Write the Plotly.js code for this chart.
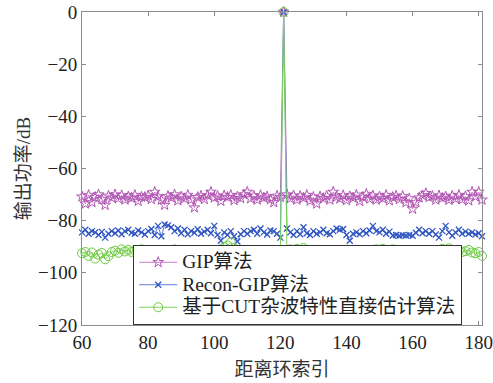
<!DOCTYPE html>
<html>
<head>
<meta charset="utf-8">
<script src="https://cdn.plot.ly/plotly-3.0.1.min.js"></script>
<style>html,body{margin:0;padding:0;background:#fff;}#chart{width:493px;height:383px;}</style>
</head>
<body>
<div id="chart"></div>
<script>
// range-bin indices 60..181
const startIndex = 60;
const endIndex = 181;

const seriesNames = ["GIP算法", "Recon-GIP算法", "基于CUT杂波特性直接估计算法"];

const gip = [
  -70.8, -73.5, -70.2, -73.0, -71.0, -70.0, -71.8, -74.0, -70.5, -71.2,
  -70.0, -71.5, -70.3, -72.0, -70.8, -71.3, -70.2, -72.5, -70.9, -71.0,
  -70.4, -71.8, -69.0, -70.8, -72.0, -74.0, -70.6, -71.2, -70.0, -72.3,
  -70.8, -71.5, -70.2, -72.0, -75.0, -71.0, -70.5, -71.8, -70.3, -69.0,
  -71.2, -70.6, -72.5, -70.4, -71.0, -70.2, -72.2, -70.8, -71.4, -70.0,
  -69.0, -71.5, -70.6, -72.0, -70.3, -71.2, -70.8, -71.9, -73.0, -70.5,
  -71.0, 0, -70.0, -71.5, -70.4, -72.0, -70.6, -71.3, -70.2, -72.4,
  -71.0, -73.5, -70.8, -71.4, -70.5, -72.0, -69.0, -70.9, -71.6, -70.3,
  -72.2, -70.7, -71.3, -70.1, -72.5, -71.0, -69.8, -71.6, -70.4, -72.0,
  -70.8, -71.5, -70.2, -72.3, -71.0, -70.5, -71.8, -70.6, -73.0, -71.5,
  -75.5, -73.0, -71.2, -70.3, -69.5, -71.0, -70.6, -72.0, -70.4, -71.3,
  -70.8, -72.1, -70.5, -71.6, -70.2, -71.9, -70.7, -72.3, -69.0, -70.8,
  -69.0, -72.0
];

const reconGip = [
  -84.5, -83.5, -85.0, -84.0, -84.5, -85.5, -84.3, -86.5, -85.0, -84.0,
  -84.8, -83.8, -85.2, -84.0, -83.5, -84.6, -85.0, -83.8, -84.5, -85.3,
  -84.0, -83.2, -85.5, -82.0, -86.0, -81.5, -81.8, -82.5, -84.0, -83.0,
  -84.8, -83.5, -85.2, -84.0, -84.6, -83.3, -85.0, -84.2, -83.5, -84.8,
  -82.0, -85.5, -87.7, -84.5, -85.5, -84.0, -86.0, -88.0, -85.2, -84.0,
  -85.0, -84.0, -83.5, -85.0, -83.0, -84.5, -85.3, -83.8, -84.0, -85.0,
  -86.5, 0, -83.0, -84.5, -85.5, -84.0, -85.2, -82.5, -84.8, -85.5,
  -84.0, -85.0, -84.5, -83.5, -84.8, -85.2, -84.0, -83.0, -83.5, -83.2,
  -85.5, -87.7, -85.0, -84.5, -85.2, -84.0, -84.8, -83.8, -82.0, -84.0,
  -84.5, -83.5, -85.0, -84.2, -85.7, -85.5, -85.8, -85.6, -85.7, -85.5,
  -85.8, -84.6, -83.5, -84.8, -84.0, -85.0, -84.0, -85.3, -86.5, -84.0,
  -82.0, -84.5, -85.8, -84.5, -83.5, -85.0, -84.2, -85.0, -84.5, -85.3,
  -84.8, -86.0
];

const cutDirect = [
  -92.5, -92.0, -93.5, -92.2, -94.5, -93.0, -92.4, -94.8, -93.6, -92.0,
  -91.5, -92.3, -91.0, -91.8, -91.2, -92.0, -91.4, -91.7, -91.0, -92.0,
  -91.3, -91.6, -92.0, -91.2, -91.8, -91.4, -92.1, -91.5, -91.0, -91.8,
  -91.2, -91.6, -92.0, -91.4, -91.8, -92.2, -91.5, -92.0, -91.7, -92.2,
  -91.8, -92.3, -91.0, -90.2, -89.5, -88.3, -90.5, -92.0, -92.5, -92.2,
  -92.0, -92.6, -92.3, -92.8, -92.4, -92.0, -92.6, -92.2, -92.0, -92.4,
  -92.3, 0, -93.0, -91.0, -92.0, -90.8, -91.6, -90.5, -91.8, -92.0,
  -91.5, -91.2, -92.0, -91.4, -91.8, -92.2, -91.6, -91.3, -92.0, -92.4,
  -91.8, -92.2, -91.6, -92.0, -91.4, -91.9, -91.5, -92.1, -91.2, -91.0,
  -91.3, -90.8, -91.2, -91.6, -91.0, -91.5, -91.8, -91.4, -92.0, -91.7,
  -92.2, -91.8, -92.3, -91.6, -92.1, -91.9, -92.4, -91.7, -91.2, -90.8,
  -91.4, -90.6, -91.3, -91.8, -91.5, -92.0, -91.7, -91.2, -92.2, -92.5,
  -92.0, -93.5
];

const xTicks = [60, 80, 100, 120, 140, 160, 180];
const yTicks = [0, -20, -40, -60, -80, -100, -120];

const rangeIndex = [];
for (let i = startIndex; i <= endIndex; i++) rangeIndex.push(i);

const FONT = '"Liberation Serif", "Times New Roman", "Noto Sans CJK SC", serif';
const legendLabel = (s) => '<span style="font-size:19.5px">' + s + '</span>';

const traces = [
  {
    x: rangeIndex, y: gip, name: legendLabel(seriesNames[0]), type: 'scatter', mode: 'lines+markers',
    line: {color: '#C77CC9', width: 1},
    marker: {symbol: 'star-open', size: 8, color: '#B256B4', line: {width: 1, color: '#B256B4'}},
    cliponaxis: false
  },
  {
    x: rangeIndex, y: reconGip, name: legendLabel(seriesNames[1]), type: 'scatter', mode: 'lines+markers',
    line: {color: '#5B7FD6', width: 1},
    marker: {symbol: 'x-thin-open', size: 6, color: '#2F55C2', line: {width: 1.3, color: '#2F55C2'}},
    cliponaxis: false
  },
  {
    x: rangeIndex, y: cutDirect, name: legendLabel(seriesNames[2]), type: 'scatter', mode: 'lines+markers',
    line: {color: '#7FD35A', width: 1},
    marker: {symbol: 'circle-open', size: 9, color: '#6CCB40', line: {width: 1, color: '#6CCB40'}},
    cliponaxis: false
  }
];

const axisCommon = {
  showline: true, mirror: 'ticks', linecolor: '#8c8c8c', linewidth: 1,
  ticks: 'inside', ticklen: 4, tickcolor: '#8c8c8c', tickwidth: 1,
  showgrid: false, zeroline: false,
  tickfont: {family: FONT, size: 19, color: '#222'}
};

const layout = {
  width: 493, height: 383,
  margin: {l: 82, r: 11, t: 12, b: 58},
  paper_bgcolor: '#fff', plot_bgcolor: '#fff',
  font: {family: FONT, color: '#222'},
  showlegend: true,
  legend: {
    x: 0.128, xanchor: 'left', y: 0, yanchor: 'bottom',
    bgcolor: '#fff', bordercolor: '#333', borderwidth: 1,
    font: {family: FONT, size: 15, color: '#222'},
    tracegroupgap: 0, itemwidth: 38
  },
  xaxis: Object.assign({}, axisCommon, {
    range: [60, 181], tickvals: xTicks,
    title: {text: '距离环索引', font: {family: FONT, size: 19, color: '#333'}, standoff: 10}
  }),
  yaxis: Object.assign({}, axisCommon, {
    range: [-120, 0], tickvals: yTicks,
    title: {text: '输出功率/dB', font: {family: FONT, size: 19, color: '#333'}, standoff: 2}
  })
};

Plotly.newPlot('chart', traces, layout, {staticPlot: true, displayModeBar: false});
</script>
</body>
</html>
